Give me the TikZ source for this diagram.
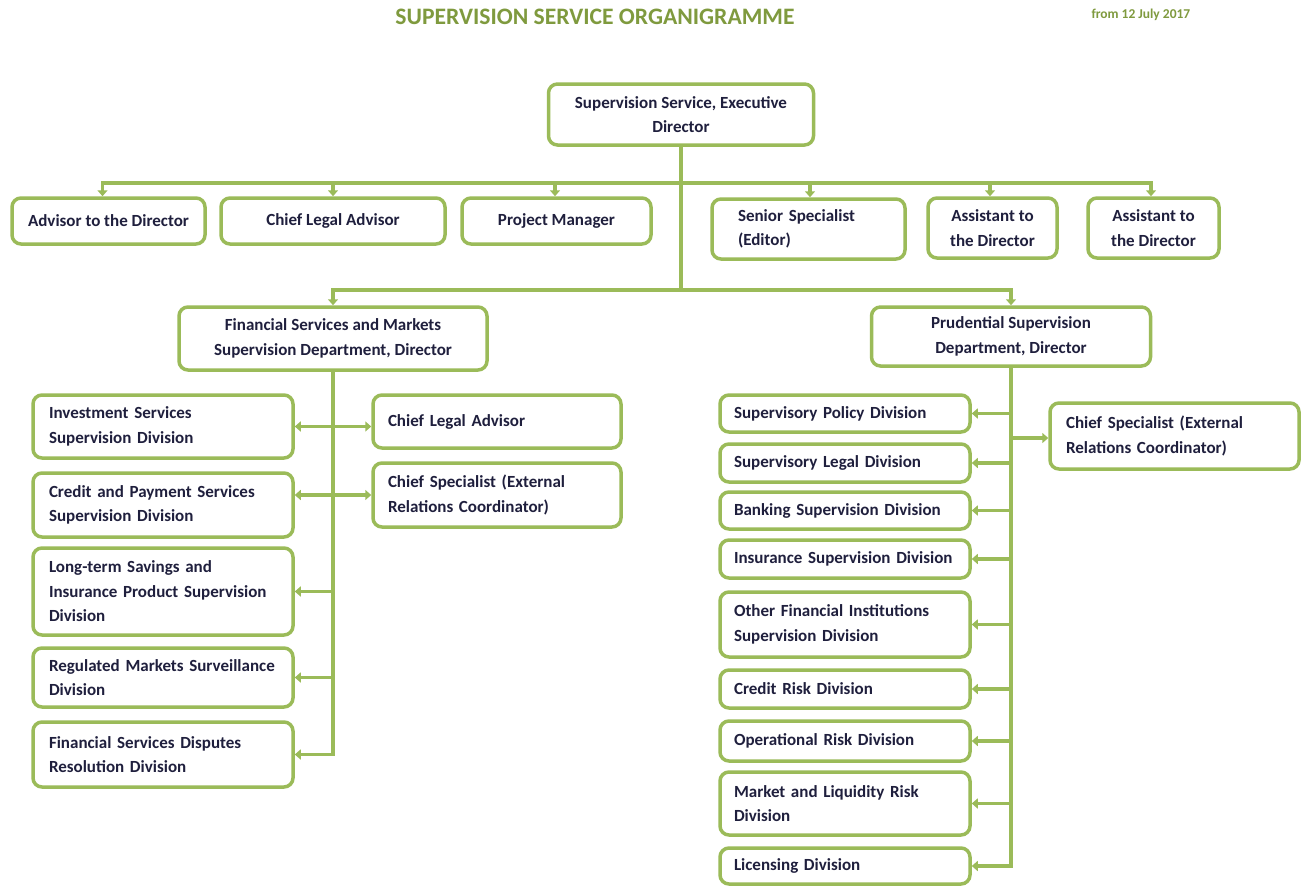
\documentclass[tikz,border=0pt]{standalone}
\usepackage{fontspec}
\setmainfont{Carlito}
\usepackage[none]{hyphenat}
\usetikzlibrary{arrows.meta}
\definecolor{orgline}{HTML}{9BBB59}
\definecolor{orgtitle}{HTML}{7F9A3E}
\definecolor{orgtext}{HTML}{1F1F3D}
\begin{document}
\begin{tikzpicture}[x=1pt,y=-1pt,
  box/.style={draw=orgline, line width=3.5pt, rounded corners=9pt, fill=white,
    text=orgtext, font=\bfseries\fontsize{17}{24.5}\selectfont, inner ysep=0pt},
  cbox/.style={box, align=center, inner xsep=0pt},
  lcol/.style={box, align=left, inner xsep=16pt, text width=228pt},
  mcol/.style={box, align=left, inner xsep=15pt, text width=218pt},
  rcol/.style={box, align=left, inner xsep=14pt, text width=222pt},
  link/.style={draw=orgline, line width=3.5pt},
  arr/.style={link, -{Triangle[length=6pt,width=10pt]}},
  darr/.style={link, {Triangle[length=6pt,width=10pt]}-{Triangle[length=6pt,width=10pt]}},
  heading/.style={text=orgtitle, font=\bfseries\fontsize{23.6}{28}\selectfont},
  datenote/.style={text=orgtitle, font=\bfseries\fontsize{13.5}{16}\selectfont}
]
\useasboundingbox[fill=white] (0,0) rectangle (1309,886);

% headings
\node[heading] (title) at (595,17) {SUPERVISION SERVICE ORGANIGRAMME};
\node[datenote, anchor=west] (date) at (1088,15) {from 12 July 2017};

% executive director
\node[cbox, minimum width=265pt, minimum height=61pt] (exec) at (681,114.5)
  {Supervision Service, Executive\\Director};

% staff reporting to the executive director
\node[cbox, minimum width=193pt, minimum height=46pt] (adv) at (108.5,221) {Advisor to the Director};
\node[cbox, minimum width=224pt, minimum height=46pt] (clg) at (333,221) {Chief Legal Advisor};
\node[cbox, minimum width=189pt, minimum height=46pt] (pm) at (556.5,221) {Project Manager};
\node[box, align=left, inner xsep=26pt, text width=141pt, minimum height=60pt] (sen) at (808.5,229)
  {Senior Specialist\\(Editor)};
\node[cbox, minimum width=129pt, minimum height=60pt] (as1) at (992.5,228) {Assistant to\\the Director};
\node[cbox, minimum width=131pt, minimum height=60pt] (as2) at (1153.5,228) {Assistant to\\the Director};

% departments
\node[cbox, minimum width=308pt, minimum height=63pt] (fsm) at (333,338.5)
  {Financial Services and Markets\\Supervision Department, Director};
\node[cbox, minimum width=279pt, minimum height=59pt] (psd) at (1011,336.5)
  {Prudential Supervision\\Department, Director};

% financial services and markets divisions
\node[lcol, minimum height=63pt] (inv) at (163,426.5) {Investment Services\\Supervision Division};
\node[lcol, minimum height=64pt] (cps) at (163,505) {Credit and Payment Services\\Supervision Division};
\node[lcol, minimum height=87pt] (lts) at (163,591.5) {Long-term Savings and\\Insurance Product Supervision\\Division};
\node[lcol, minimum height=59pt] (rms) at (163,677.5) {Regulated Markets Surveillance\\Division};
\node[lcol, minimum height=65pt] (fsd) at (163,754.5) {Financial Services Disputes\\Resolution Division};
\node[mcol, minimum height=53pt] (cla) at (497,421.5) {Chief Legal Advisor};
\node[mcol, minimum height=64pt] (cse) at (497,495) {Chief Specialist (External\\Relations Coordinator)};

% prudential supervision divisions
\node[rcol, minimum height=37pt] (spd) at (845,413.5) {Supervisory Policy Division};
\node[rcol, minimum height=38pt] (sld) at (845,463) {Supervisory Legal Division};
\node[rcol, minimum height=37pt] (bsd) at (845,510.5) {Banking Supervision Division};
\node[rcol, minimum height=38pt] (isd) at (845,559) {Insurance Supervision Division};
\node[rcol, minimum height=65pt] (ofi) at (845,624.5) {Other Financial Institutions\\Supervision Division};
\node[rcol, minimum height=38pt] (crd) at (845,689) {Credit Risk Division};
\node[rcol, minimum height=40pt] (ord) at (845,741) {Operational Risk Division};
\node[rcol, minimum height=63pt] (mlr) at (845,803.5) {Market and Liquidity Risk\\Division};
\node[rcol, minimum height=36pt] (lic) at (845,866) {Licensing Division};
\node[box, align=left, inner xsep=16pt, text width=217pt, minimum height=66pt] (rcs) at (1174.5,436)
  {Chief Specialist (External\\Relations Coordinator)};

% buses
\coordinate (b1) at (681,183);
\coordinate (b2) at (681,290);
\draw[link] (exec.south) -- (b2);
\draw[arr] (b1) -| ([xshift=-6pt]adv.north);
\draw[arr] (b1) -| (clg.north);
\draw[arr] (b1) -| ([xshift=-1.5pt]pm.north);
\draw[arr] (b1) -| ([xshift=1.5pt]sen.north);
\draw[arr] (b1) -| ([xshift=-2.5pt]as1.north);
\draw[arr] (b1) -| ([xshift=-2.5pt]as2.north);
\draw[arr] (b2) -| (fsm.north);
\draw[arr] (b2) -| (psd.north);

% financial services and markets department
\draw[arr] (fsm.south) |- (fsd.east);
\draw[arr] (fsm.south |- lts.east) -- (lts.east);
\draw[arr] (fsm.south |- rms.east) -- (rms.east);
\draw[darr] (inv.east) -- (inv.east -| cla.west);
\draw[darr] (cps.east |- cse.west) -- (cse.west);

% prudential supervision department
\draw[arr] (psd.south) |- (lic.east);
\draw[arr] (psd.south |- spd.east) -- (spd.east);
\draw[arr] (psd.south |- sld.east) -- (sld.east);
\draw[arr] (psd.south |- bsd.east) -- (bsd.east);
\draw[arr] (psd.south |- isd.east) -- (isd.east);
\draw[arr] (psd.south |- ofi.east) -- (ofi.east);
\draw[arr] (psd.south |- crd.east) -- (crd.east);
\draw[arr] (psd.south |- ord.east) -- (ord.east);
\draw[arr] (psd.south |- mlr.east) -- (mlr.east);
\draw[arr] ([yshift=-2pt]psd.south |- rcs.west) -- ([yshift=-2pt]rcs.west);
\end{tikzpicture}
\end{document}
